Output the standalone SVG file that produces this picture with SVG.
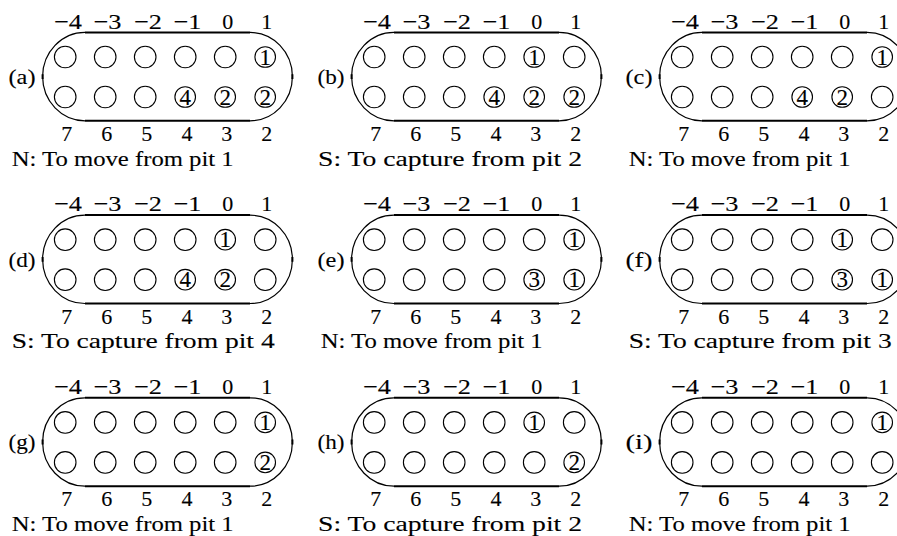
<svg xmlns="http://www.w3.org/2000/svg" width="897" height="536" viewBox="0 0 897 536" font-family="'Liberation Serif', 'Times New Roman', serif">
<style>
text{font-family:"Liberation Serif","Times New Roman",serif;fill:#000;stroke:#000;stroke-width:0.12}
.t{font-size:22px;text-anchor:middle}
.n{font-size:23px;text-anchor:middle}
.p{font-size:22px;text-anchor:middle}
.c{font-size:22px}
.e{fill:none;stroke:#000;stroke-width:1.1}
.s{fill:none;stroke:#000;stroke-width:2}
.a{fill:none;stroke:#000;stroke-width:1.2}
</style>
<defs>
<g id="board">
<path class="s" d="M85,32.4H250M85,120.8H250M42.6,74.2V79M292.4,74.2V79"/>
<path class="a" d="M85,32.4A42.4,44.2 0 0 0 85,120.8M250,32.4A42.4,44.2 0 0 1 250,120.8"/>
</g>
</defs>

<g id="panel-a">
<use href="#board"/>
<g class="labels">
<text class="t" x="68" y="28.5" textLength="28" lengthAdjust="spacingAndGlyphs">−4</text>
<text class="t" x="107.5" y="28.5" textLength="28" lengthAdjust="spacingAndGlyphs">−3</text>
<text class="t" x="148" y="28.5" textLength="28" lengthAdjust="spacingAndGlyphs">−2</text>
<text class="t" x="187.5" y="28.5" textLength="28" lengthAdjust="spacingAndGlyphs">−1</text>
<text class="t" x="227.7" y="28.5">0</text>
<text class="t" x="266.7" y="28.5">1</text>
<text class="t" x="66.7" y="141">7</text>
<text class="t" x="106.7" y="141">6</text>
<text class="t" x="146.7" y="141">5</text>
<text class="t" x="187" y="141">4</text>
<text class="t" x="226.7" y="141">3</text>
<text class="t" x="266.7" y="141">2</text>
<text class="p" x="22" y="84" textLength="27" lengthAdjust="spacingAndGlyphs">(a)</text>
</g>
<g id="a-pits">
<circle class="e" cx="65.2" cy="57" r="10.8"/><circle class="e" cx="105.2" cy="57" r="10.8"/><circle class="e" cx="145.2" cy="57" r="10.8"/><circle class="e" cx="185.2" cy="57" r="10.8"/><circle class="e" cx="225.2" cy="57" r="10.8"/>
<g id="a-t6"><circle class="e" cx="265.2" cy="57" r="10.3"/><text class="n" x="265.2" y="64.8">1</text></g>
<circle class="e" cx="65.2" cy="97" r="10.8"/><circle class="e" cx="105.2" cy="97" r="10.8"/><circle class="e" cx="145.2" cy="97" r="10.8"/>
<g id="a-b4"><circle class="e" cx="185.2" cy="97" r="10.3"/><text class="n" x="185.2" y="104.8">4</text></g>
<g id="a-b5"><circle class="e" cx="225.2" cy="97" r="10.3"/><text class="n" x="225.2" y="104.8">2</text></g>
<g id="a-b6"><circle class="e" cx="265.2" cy="97" r="10.3"/><text class="n" x="265.2" y="104.8">2</text></g>
</g>
<text class="c" x="11.7" y="165.5" textLength="222" lengthAdjust="spacingAndGlyphs">N: To move from pit 1</text>
</g>

<g id="panel-b" transform="translate(309,0)">
<use href="#board"/>
<g class="labels">
<text class="t" x="68" y="28.5" textLength="28" lengthAdjust="spacingAndGlyphs">−4</text>
<text class="t" x="107.5" y="28.5" textLength="28" lengthAdjust="spacingAndGlyphs">−3</text>
<text class="t" x="148" y="28.5" textLength="28" lengthAdjust="spacingAndGlyphs">−2</text>
<text class="t" x="187.5" y="28.5" textLength="28" lengthAdjust="spacingAndGlyphs">−1</text>
<text class="t" x="227.7" y="28.5">0</text>
<text class="t" x="266.7" y="28.5">1</text>
<text class="t" x="66.7" y="141">7</text>
<text class="t" x="106.7" y="141">6</text>
<text class="t" x="146.7" y="141">5</text>
<text class="t" x="187" y="141">4</text>
<text class="t" x="226.7" y="141">3</text>
<text class="t" x="266.7" y="141">2</text>
<text class="p" x="22" y="84" textLength="27" lengthAdjust="spacingAndGlyphs">(b)</text>
</g>
<g id="b-pits">
<circle class="e" cx="65.2" cy="57" r="10.8"/><circle class="e" cx="105.2" cy="57" r="10.8"/><circle class="e" cx="145.2" cy="57" r="10.8"/><circle class="e" cx="185.2" cy="57" r="10.8"/>
<g id="b-t5"><circle class="e" cx="225.2" cy="57" r="10.3"/><text class="n" x="225.2" y="64.8">1</text></g>
<circle class="e" cx="265.2" cy="57" r="10.8"/>
<circle class="e" cx="65.2" cy="97" r="10.8"/><circle class="e" cx="105.2" cy="97" r="10.8"/><circle class="e" cx="145.2" cy="97" r="10.8"/>
<g id="b-b4"><circle class="e" cx="185.2" cy="97" r="10.3"/><text class="n" x="185.2" y="104.8">4</text></g>
<g id="b-b5"><circle class="e" cx="225.2" cy="97" r="10.3"/><text class="n" x="225.2" y="104.8">2</text></g>
<g id="b-b6"><circle class="e" cx="265.2" cy="97" r="10.3"/><text class="n" x="265.2" y="104.8">2</text></g>
</g>
<text class="c" x="9" y="165.5" textLength="264" lengthAdjust="spacingAndGlyphs">S: To capture from pit 2</text>
</g>

<g id="panel-c" transform="translate(617,0)">
<use href="#board"/>
<g class="labels">
<text class="t" x="68" y="28.5" textLength="28" lengthAdjust="spacingAndGlyphs">−4</text>
<text class="t" x="107.5" y="28.5" textLength="28" lengthAdjust="spacingAndGlyphs">−3</text>
<text class="t" x="148" y="28.5" textLength="28" lengthAdjust="spacingAndGlyphs">−2</text>
<text class="t" x="187.5" y="28.5" textLength="28" lengthAdjust="spacingAndGlyphs">−1</text>
<text class="t" x="227.7" y="28.5">0</text>
<text class="t" x="266.7" y="28.5">1</text>
<text class="t" x="66.7" y="141">7</text>
<text class="t" x="106.7" y="141">6</text>
<text class="t" x="146.7" y="141">5</text>
<text class="t" x="187" y="141">4</text>
<text class="t" x="226.7" y="141">3</text>
<text class="t" x="266.7" y="141">2</text>
<text class="p" x="22" y="84" textLength="27" lengthAdjust="spacingAndGlyphs">(c)</text>
</g>
<g id="c-pits">
<circle class="e" cx="65.2" cy="57" r="10.8"/><circle class="e" cx="105.2" cy="57" r="10.8"/><circle class="e" cx="145.2" cy="57" r="10.8"/><circle class="e" cx="185.2" cy="57" r="10.8"/><circle class="e" cx="225.2" cy="57" r="10.8"/>
<g id="c-t6"><circle class="e" cx="265.2" cy="57" r="10.3"/><text class="n" x="265.2" y="64.8">1</text></g>
<circle class="e" cx="65.2" cy="97" r="10.8"/><circle class="e" cx="105.2" cy="97" r="10.8"/><circle class="e" cx="145.2" cy="97" r="10.8"/>
<g id="c-b4"><circle class="e" cx="185.2" cy="97" r="10.3"/><text class="n" x="185.2" y="104.8">4</text></g>
<g id="c-b5"><circle class="e" cx="225.2" cy="97" r="10.3"/><text class="n" x="225.2" y="104.8">2</text></g>
<circle class="e" cx="265.2" cy="97" r="10.8"/>
</g>
<text class="c" x="11.7" y="165.5" textLength="222" lengthAdjust="spacingAndGlyphs">N: To move from pit 1</text>
</g>

<g id="panel-d" transform="translate(0,182.7)">
<use href="#board"/>
<g class="labels">
<text class="t" x="68" y="28.5" textLength="28" lengthAdjust="spacingAndGlyphs">−4</text>
<text class="t" x="107.5" y="28.5" textLength="28" lengthAdjust="spacingAndGlyphs">−3</text>
<text class="t" x="148" y="28.5" textLength="28" lengthAdjust="spacingAndGlyphs">−2</text>
<text class="t" x="187.5" y="28.5" textLength="28" lengthAdjust="spacingAndGlyphs">−1</text>
<text class="t" x="227.7" y="28.5">0</text>
<text class="t" x="266.7" y="28.5">1</text>
<text class="t" x="66.7" y="141">7</text>
<text class="t" x="106.7" y="141">6</text>
<text class="t" x="146.7" y="141">5</text>
<text class="t" x="187" y="141">4</text>
<text class="t" x="226.7" y="141">3</text>
<text class="t" x="266.7" y="141">2</text>
<text class="p" x="22" y="84" textLength="27" lengthAdjust="spacingAndGlyphs">(d)</text>
</g>
<g id="d-pits">
<circle class="e" cx="65.2" cy="57" r="10.8"/><circle class="e" cx="105.2" cy="57" r="10.8"/><circle class="e" cx="145.2" cy="57" r="10.8"/><circle class="e" cx="185.2" cy="57" r="10.8"/>
<g id="d-t5"><circle class="e" cx="225.2" cy="57" r="10.3"/><text class="n" x="225.2" y="64.8">1</text></g>
<circle class="e" cx="265.2" cy="57" r="10.8"/>
<circle class="e" cx="65.2" cy="97" r="10.8"/><circle class="e" cx="105.2" cy="97" r="10.8"/><circle class="e" cx="145.2" cy="97" r="10.8"/>
<g id="d-b4"><circle class="e" cx="185.2" cy="97" r="10.3"/><text class="n" x="185.2" y="104.8">4</text></g>
<g id="d-b5"><circle class="e" cx="225.2" cy="97" r="10.3"/><text class="n" x="225.2" y="104.8">2</text></g>
<circle class="e" cx="265.2" cy="97" r="10.8"/>
</g>
<text class="c" x="11.7" y="165.5" textLength="263" lengthAdjust="spacingAndGlyphs">S: To capture from pit 4</text>
</g>

<g id="panel-e" transform="translate(309,182.7)">
<use href="#board"/>
<g class="labels">
<text class="t" x="68" y="28.5" textLength="28" lengthAdjust="spacingAndGlyphs">−4</text>
<text class="t" x="107.5" y="28.5" textLength="28" lengthAdjust="spacingAndGlyphs">−3</text>
<text class="t" x="148" y="28.5" textLength="28" lengthAdjust="spacingAndGlyphs">−2</text>
<text class="t" x="187.5" y="28.5" textLength="28" lengthAdjust="spacingAndGlyphs">−1</text>
<text class="t" x="227.7" y="28.5">0</text>
<text class="t" x="266.7" y="28.5">1</text>
<text class="t" x="66.7" y="141">7</text>
<text class="t" x="106.7" y="141">6</text>
<text class="t" x="146.7" y="141">5</text>
<text class="t" x="187" y="141">4</text>
<text class="t" x="226.7" y="141">3</text>
<text class="t" x="266.7" y="141">2</text>
<text class="p" x="22" y="84" textLength="27" lengthAdjust="spacingAndGlyphs">(e)</text>
</g>
<g id="e-pits">
<circle class="e" cx="65.2" cy="57" r="10.8"/><circle class="e" cx="105.2" cy="57" r="10.8"/><circle class="e" cx="145.2" cy="57" r="10.8"/><circle class="e" cx="185.2" cy="57" r="10.8"/><circle class="e" cx="225.2" cy="57" r="10.8"/>
<g id="e-t6"><circle class="e" cx="265.2" cy="57" r="10.3"/><text class="n" x="265.2" y="64.8">1</text></g>
<circle class="e" cx="65.2" cy="97" r="10.8"/><circle class="e" cx="105.2" cy="97" r="10.8"/><circle class="e" cx="145.2" cy="97" r="10.8"/><circle class="e" cx="185.2" cy="97" r="10.8"/>
<g id="e-b5"><circle class="e" cx="225.2" cy="97" r="10.3"/><text class="n" x="225.2" y="104.8">3</text></g>
<g id="e-b6"><circle class="e" cx="265.2" cy="97" r="10.3"/><text class="n" x="265.2" y="104.8">1</text></g>
</g>
<text class="c" x="11.7" y="165.5" textLength="222" lengthAdjust="spacingAndGlyphs">N: To move from pit 1</text>
</g>

<g id="panel-f" transform="translate(617,182.7)">
<use href="#board"/>
<g class="labels">
<text class="t" x="68" y="28.5" textLength="28" lengthAdjust="spacingAndGlyphs">−4</text>
<text class="t" x="107.5" y="28.5" textLength="28" lengthAdjust="spacingAndGlyphs">−3</text>
<text class="t" x="148" y="28.5" textLength="28" lengthAdjust="spacingAndGlyphs">−2</text>
<text class="t" x="187.5" y="28.5" textLength="28" lengthAdjust="spacingAndGlyphs">−1</text>
<text class="t" x="227.7" y="28.5">0</text>
<text class="t" x="266.7" y="28.5">1</text>
<text class="t" x="66.7" y="141">7</text>
<text class="t" x="106.7" y="141">6</text>
<text class="t" x="146.7" y="141">5</text>
<text class="t" x="187" y="141">4</text>
<text class="t" x="226.7" y="141">3</text>
<text class="t" x="266.7" y="141">2</text>
<text class="p" x="22" y="84" textLength="27" lengthAdjust="spacingAndGlyphs">(f)</text>
</g>
<g id="f-pits">
<circle class="e" cx="65.2" cy="57" r="10.8"/><circle class="e" cx="105.2" cy="57" r="10.8"/><circle class="e" cx="145.2" cy="57" r="10.8"/><circle class="e" cx="185.2" cy="57" r="10.8"/>
<g id="f-t5"><circle class="e" cx="225.2" cy="57" r="10.3"/><text class="n" x="225.2" y="64.8">1</text></g>
<circle class="e" cx="265.2" cy="57" r="10.8"/>
<circle class="e" cx="65.2" cy="97" r="10.8"/><circle class="e" cx="105.2" cy="97" r="10.8"/><circle class="e" cx="145.2" cy="97" r="10.8"/><circle class="e" cx="185.2" cy="97" r="10.8"/>
<g id="f-b5"><circle class="e" cx="225.2" cy="97" r="10.3"/><text class="n" x="225.2" y="104.8">3</text></g>
<g id="f-b6"><circle class="e" cx="265.2" cy="97" r="10.3"/><text class="n" x="265.2" y="104.8">1</text></g>
</g>
<text class="c" x="11.7" y="165.5" textLength="263" lengthAdjust="spacingAndGlyphs">S: To capture from pit 3</text>
</g>

<g id="panel-g" transform="translate(0,365.4)">
<use href="#board"/>
<g class="labels">
<text class="t" x="68" y="28.5" textLength="28" lengthAdjust="spacingAndGlyphs">−4</text>
<text class="t" x="107.5" y="28.5" textLength="28" lengthAdjust="spacingAndGlyphs">−3</text>
<text class="t" x="148" y="28.5" textLength="28" lengthAdjust="spacingAndGlyphs">−2</text>
<text class="t" x="187.5" y="28.5" textLength="28" lengthAdjust="spacingAndGlyphs">−1</text>
<text class="t" x="227.7" y="28.5">0</text>
<text class="t" x="266.7" y="28.5">1</text>
<text class="t" x="66.7" y="141">7</text>
<text class="t" x="106.7" y="141">6</text>
<text class="t" x="146.7" y="141">5</text>
<text class="t" x="187" y="141">4</text>
<text class="t" x="226.7" y="141">3</text>
<text class="t" x="266.7" y="141">2</text>
<text class="p" x="22" y="84" textLength="27" lengthAdjust="spacingAndGlyphs">(g)</text>
</g>
<g id="g-pits">
<circle class="e" cx="65.2" cy="57" r="10.8"/><circle class="e" cx="105.2" cy="57" r="10.8"/><circle class="e" cx="145.2" cy="57" r="10.8"/><circle class="e" cx="185.2" cy="57" r="10.8"/><circle class="e" cx="225.2" cy="57" r="10.8"/>
<g id="g-t6"><circle class="e" cx="265.2" cy="57" r="10.3"/><text class="n" x="265.2" y="64.8">1</text></g>
<circle class="e" cx="65.2" cy="97" r="10.8"/><circle class="e" cx="105.2" cy="97" r="10.8"/><circle class="e" cx="145.2" cy="97" r="10.8"/><circle class="e" cx="185.2" cy="97" r="10.8"/><circle class="e" cx="225.2" cy="97" r="10.8"/>
<g id="g-b6"><circle class="e" cx="265.2" cy="97" r="10.3"/><text class="n" x="265.2" y="104.8">2</text></g>
</g>
<text class="c" x="11.7" y="165.5" textLength="222" lengthAdjust="spacingAndGlyphs">N: To move from pit 1</text>
</g>

<g id="panel-h" transform="translate(309,365.4)">
<use href="#board"/>
<g class="labels">
<text class="t" x="68" y="28.5" textLength="28" lengthAdjust="spacingAndGlyphs">−4</text>
<text class="t" x="107.5" y="28.5" textLength="28" lengthAdjust="spacingAndGlyphs">−3</text>
<text class="t" x="148" y="28.5" textLength="28" lengthAdjust="spacingAndGlyphs">−2</text>
<text class="t" x="187.5" y="28.5" textLength="28" lengthAdjust="spacingAndGlyphs">−1</text>
<text class="t" x="227.7" y="28.5">0</text>
<text class="t" x="266.7" y="28.5">1</text>
<text class="t" x="66.7" y="141">7</text>
<text class="t" x="106.7" y="141">6</text>
<text class="t" x="146.7" y="141">5</text>
<text class="t" x="187" y="141">4</text>
<text class="t" x="226.7" y="141">3</text>
<text class="t" x="266.7" y="141">2</text>
<text class="p" x="22" y="84" textLength="27" lengthAdjust="spacingAndGlyphs">(h)</text>
</g>
<g id="h-pits">
<circle class="e" cx="65.2" cy="57" r="10.8"/><circle class="e" cx="105.2" cy="57" r="10.8"/><circle class="e" cx="145.2" cy="57" r="10.8"/><circle class="e" cx="185.2" cy="57" r="10.8"/>
<g id="h-t5"><circle class="e" cx="225.2" cy="57" r="10.3"/><text class="n" x="225.2" y="64.8">1</text></g>
<circle class="e" cx="265.2" cy="57" r="10.8"/>
<circle class="e" cx="65.2" cy="97" r="10.8"/><circle class="e" cx="105.2" cy="97" r="10.8"/><circle class="e" cx="145.2" cy="97" r="10.8"/><circle class="e" cx="185.2" cy="97" r="10.8"/><circle class="e" cx="225.2" cy="97" r="10.8"/>
<g id="h-b6"><circle class="e" cx="265.2" cy="97" r="10.3"/><text class="n" x="265.2" y="104.8">2</text></g>
</g>
<text class="c" x="9" y="165.5" textLength="264" lengthAdjust="spacingAndGlyphs">S: To capture from pit 2</text>
</g>

<g id="panel-i" transform="translate(617,365.4)">
<use href="#board"/>
<g class="labels">
<text class="t" x="68" y="28.5" textLength="28" lengthAdjust="spacingAndGlyphs">−4</text>
<text class="t" x="107.5" y="28.5" textLength="28" lengthAdjust="spacingAndGlyphs">−3</text>
<text class="t" x="148" y="28.5" textLength="28" lengthAdjust="spacingAndGlyphs">−2</text>
<text class="t" x="187.5" y="28.5" textLength="28" lengthAdjust="spacingAndGlyphs">−1</text>
<text class="t" x="227.7" y="28.5">0</text>
<text class="t" x="266.7" y="28.5">1</text>
<text class="t" x="66.7" y="141">7</text>
<text class="t" x="106.7" y="141">6</text>
<text class="t" x="146.7" y="141">5</text>
<text class="t" x="187" y="141">4</text>
<text class="t" x="226.7" y="141">3</text>
<text class="t" x="266.7" y="141">2</text>
<text class="p" x="22" y="84" textLength="27" lengthAdjust="spacingAndGlyphs">(i)</text>
</g>
<g id="i-pits">
<circle class="e" cx="65.2" cy="57" r="10.8"/><circle class="e" cx="105.2" cy="57" r="10.8"/><circle class="e" cx="145.2" cy="57" r="10.8"/><circle class="e" cx="185.2" cy="57" r="10.8"/><circle class="e" cx="225.2" cy="57" r="10.8"/>
<g id="i-t6"><circle class="e" cx="265.2" cy="57" r="10.3"/><text class="n" x="265.2" y="64.8">1</text></g>
<circle class="e" cx="65.2" cy="97" r="10.8"/><circle class="e" cx="105.2" cy="97" r="10.8"/><circle class="e" cx="145.2" cy="97" r="10.8"/><circle class="e" cx="185.2" cy="97" r="10.8"/><circle class="e" cx="225.2" cy="97" r="10.8"/><circle class="e" cx="265.2" cy="97" r="10.8"/>
</g>
<text class="c" x="11.7" y="165.5" textLength="222" lengthAdjust="spacingAndGlyphs">N: To move from pit 1</text>
</g>
</svg>
